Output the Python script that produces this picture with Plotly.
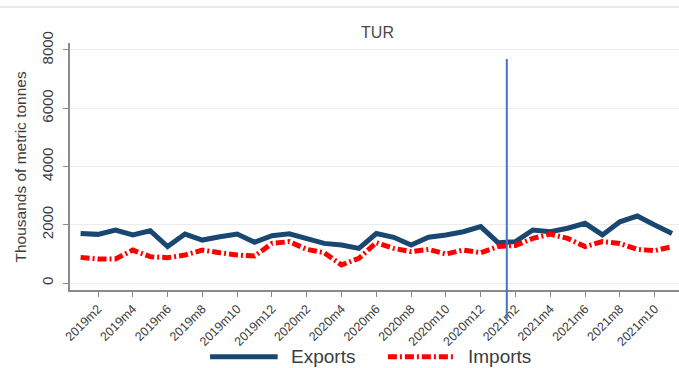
import plotly.graph_objects as go

# Monthly trade volumes for Turkey, thousands of metric tonnes
months = [
    "2019m1", "2019m2", "2019m3", "2019m4", "2019m5", "2019m6",
    "2019m7", "2019m8", "2019m9", "2019m10", "2019m11", "2019m12",
    "2020m1", "2020m2", "2020m3", "2020m4", "2020m5", "2020m6",
    "2020m7", "2020m8", "2020m9", "2020m10", "2020m11", "2020m12",
    "2021m1", "2021m2", "2021m3", "2021m4", "2021m5", "2021m6",
    "2021m7", "2021m8", "2021m9", "2021m10", "2021m11",
]
exports = [
    1700, 1670, 1820, 1650, 1795, 1250, 1680, 1475, 1590, 1680, 1400, 1625,
    1690, 1510, 1360, 1305, 1190, 1700, 1570, 1305, 1570, 1650, 1760, 1935,
    1385, 1420, 1820, 1760, 1880, 2050, 1650, 2100, 2300, 1990, 1700,
]
imports = [
    880, 825, 825, 1130, 905, 870, 960, 1130, 1040, 960, 925, 1360,
    1420, 1155, 1040, 620, 850, 1385, 1190, 1075, 1155, 995, 1130, 1040,
    1250, 1290, 1530, 1680, 1530, 1250, 1420, 1360, 1155, 1110, 1250,
]
tick_months = [
    "2019m2", "2019m4", "2019m6", "2019m8", "2019m10", "2019m12",
    "2020m2", "2020m4", "2020m6", "2020m8", "2020m10", "2020m12",
    "2021m2", "2021m4", "2021m6", "2021m8", "2021m10",
]
y_ticks = [0, 2000, 4000, 6000, 8000]
series_names = ["Exports", "Imports"]

EXP_COLOR = "#1a476f"
IMP_COLOR = "#ff0000"
AXIS_COLOR = "#8a8a8a"
TEXT_COLOR = "#3c3c3c"
FONT = "Liberation Sans, Arial, sans-serif"
IMP_DASH = "9px,3px,2px,3px"

fig = go.Figure()
fig.add_trace(go.Scatter(
    x=months, y=exports, name=series_names[0], mode="lines",
    line=dict(color=EXP_COLOR, width=5), showlegend=False,
))
fig.add_trace(go.Scatter(
    x=months, y=imports, name=series_names[1], mode="lines",
    line=dict(color=IMP_COLOR, width=5, dash=IMP_DASH), showlegend=False,
))

# Vertical marker between 2021m1 and 2021m2
fig.add_shape(type="line", xref="x", yref="paper", x0=24.5, x1=24.5,
              y0=0.935, y1=-0.115, line=dict(color="#4472c4", width=2))

# Thin rule across the top of the canvas
fig.add_shape(type="line", xref="paper", yref="paper", x0=-0.12, x1=1.0,
              y0=1.146, y1=1.146, line=dict(color="#e6e8ea", width=2))

# Legend drawn below the plot
leg_y = -0.27
fig.add_shape(type="line", xref="paper", yref="paper", x0=0.230, x1=0.341,
              y0=leg_y, y1=leg_y, line=dict(color=EXP_COLOR, width=5))
fig.add_shape(type="line", xref="paper", yref="paper", x0=0.522, x1=0.632,
              y0=leg_y, y1=leg_y, line=dict(color=IMP_COLOR, width=5, dash=IMP_DASH))
fig.add_annotation(x=0.359, y=leg_y, xref="paper", yref="paper", text=series_names[0],
                   showarrow=False, xanchor="left", yanchor="middle",
                   font=dict(family=FONT, size=19, color=TEXT_COLOR))
fig.add_annotation(x=0.651, y=leg_y, xref="paper", yref="paper", text=series_names[1],
                   showarrow=False, xanchor="left", yanchor="middle",
                   font=dict(family=FONT, size=19, color=TEXT_COLOR))

# Y-axis title
fig.add_annotation(x=-0.082, y=0.5, xref="paper", yref="paper",
                   text="Thousands of metric tonnes", textangle=-90,
                   showarrow=False, xanchor="center", yanchor="middle",
                   font=dict(family=FONT, size=15.5, color=TEXT_COLOR))

fig.update_layout(
    width=679, height=368,
    margin=dict(l=70, r=0, t=43, b=78),
    paper_bgcolor="white", plot_bgcolor="white",
    font=dict(family=FONT, color=TEXT_COLOR),
    title=dict(text="TUR", x=0.505, xref="paper", y=1 - 32 / 368, yref="container",
               xanchor="center", yanchor="middle",
               font=dict(family=FONT, size=16, color="#4a4a4a")),
    showlegend=False,
)
fig.update_xaxes(
    type="category", range=[-0.61, 34.4],
    tickmode="array", tickvals=tick_months, ticktext=tick_months,
    tickangle=-45, tickfont=dict(size=12.5, color=TEXT_COLOR),
    ticks="outside", ticklen=5, tickwidth=1.2, tickcolor=AXIS_COLOR,
    showline=True, linecolor=AXIS_COLOR, linewidth=1.5,
    showgrid=False, zeroline=False,
)
fig.update_yaxes(
    range=[-240, 8240], tickmode="array", tickvals=y_ticks,
    tickangle=-90, tickfont=dict(size=15, color=TEXT_COLOR),
    ticks="outside", ticklen=5, tickwidth=1.2, tickcolor=AXIS_COLOR,
    ticklabelstandoff=4,
    showline=True, linecolor=AXIS_COLOR, linewidth=1.5,
    showgrid=True, gridcolor="#ececec", gridwidth=1, zeroline=False,
)

fig.write_html("out.html")
